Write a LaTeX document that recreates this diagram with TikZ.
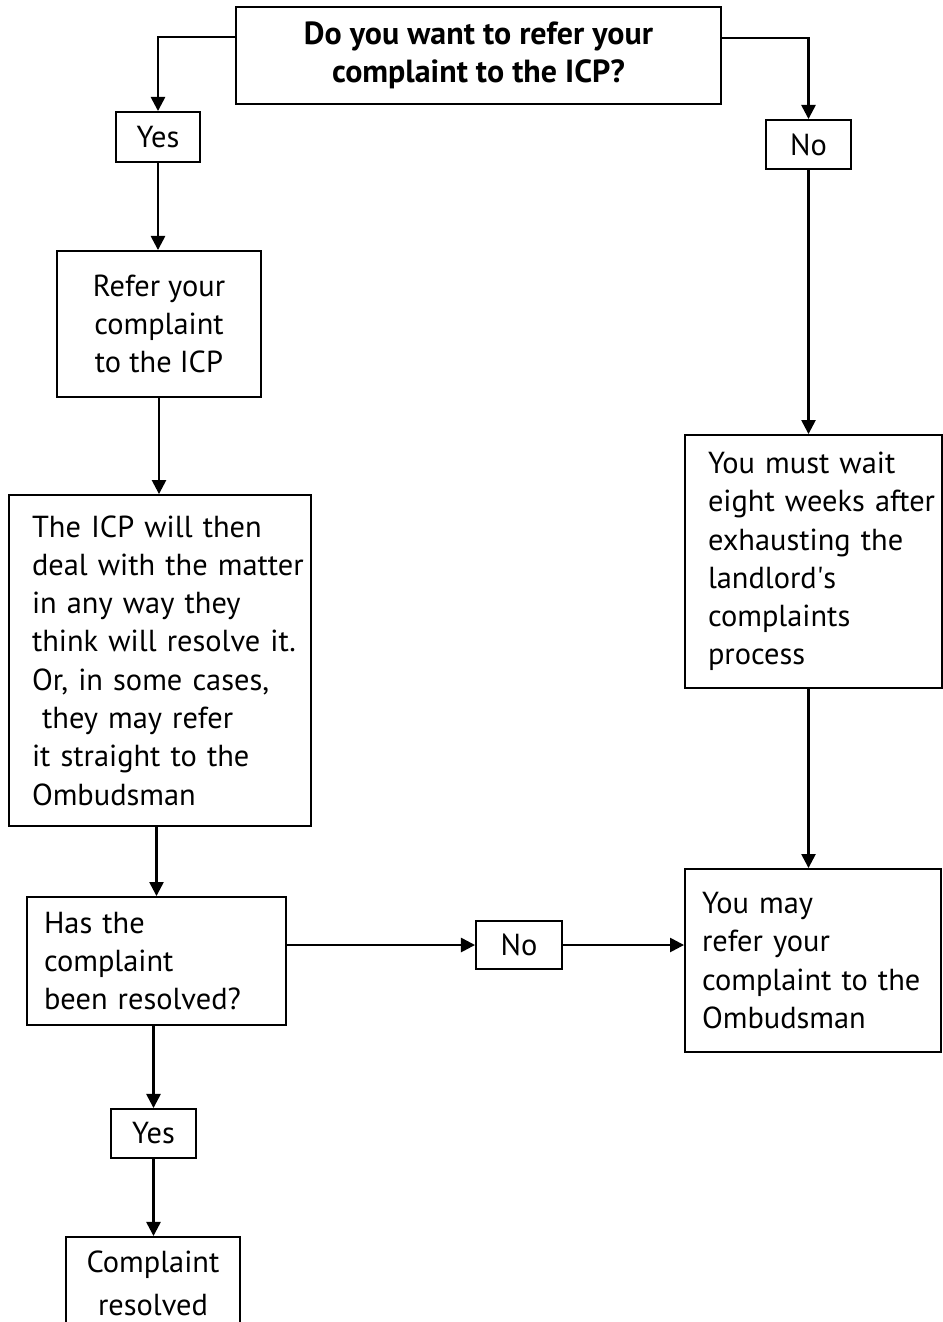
\documentclass[tikz,border=0pt]{standalone}
\usepackage{fontspec}
\setmainfont{PT Sans}
\usetikzlibrary{arrows.meta}
\hyphenpenalty=10000
\exhyphenpenalty=10000

\begin{document}
\begin{tikzpicture}[x=0.02cm, y=-0.02cm,
  box/.style={draw, line width=1.1pt, inner sep=0pt, font=\fontsize{17.3}{21.8}\selectfont},
  flow/.style={-{Triangle[length=8pt,width=8pt]}, line width=1.4pt}]
\useasboundingbox (0,0) rectangle (943,1322);
\clip (0,0) rectangle (943,1322);
\node[box, line width=1.6pt, minimum width=9.7cm, minimum height=1.94cm, align=center, font=\bfseries\fontsize{18.2}{22}\selectfont] (q) at (478.5,55.5) {Do you want to refer your\\complaint to the ICP?};
\node[box, minimum width=1.68cm, minimum height=1cm] (yes1) at (158,137) {Yes};
\node[box, minimum width=1.7cm, minimum height=0.98cm] (no1) at (808.5,144.5) {No};
\node[box, minimum width=4.08cm, minimum height=2.92cm, align=center] (refer) at (159,324) {Refer your\\complaint\\to the ICP};
\node[box, minimum width=6.04cm, minimum height=6.62cm, inner xsep=0.46cm, text width=5.12cm, align=left] (icp) at (160,660.5) {The~ICP~will~then\\deal~with~the~matter\\in~any~way~they\\think~will~resolve~it.\\Or,~in~some~cases,\\\ they~may~refer\\it~straight~to~the\\Ombudsman};
\node[box, minimum width=5.14cm, minimum height=5.06cm, inner xsep=0.46cm, text width=4.22cm, align=left] (wait) at (813.5,561.5) {You~must~wait\\eight~weeks~after\\exhausting~the\\landlord\textquotesingle s\\complaints\\process};
\node[box, minimum width=5.18cm, minimum height=2.56cm, inner xsep=0.34cm, text width=4.5cm, align=left] (resolved) at (156.5,961) {Has~the\\complaint\\been~resolved?};
\node[box, minimum width=1.72cm, minimum height=0.96cm] (no2) at (519,945) {No};
\node[box, minimum width=5.12cm, minimum height=3.66cm, inner xsep=0.34cm, text width=4.44cm, align=left] (may) at (813,960.5) {You~may\\refer~your\\complaint~to~the\\Ombudsman};
\node[box, minimum width=1.7cm, minimum height=0.98cm] (yes2) at (153.5,1133.5) {Yes};
\node[box, anchor=north, minimum width=3.48cm, inner ysep=0.28cm, text depth=1cm, align=center, font=\fontsize{17.3}{24.4}\selectfont] (done) at (153,1236) {Complaint\\resolved};
\draw[flow] ([yshift=0.37cm]q.west) -| (yes1.north);
\draw[flow] ([yshift=0.35cm]q.east) -| (no1.north);
\draw[flow] (yes1.south) -- (yes1.south |- refer.north);
\draw[flow] (refer.south) -- (refer.south |- icp.north);
\draw[flow] (no1.south) -- (no1.south |- wait.north);
\draw[flow] (resolved.north |- icp.south) -- (resolved.north);
\draw[flow] (resolved.east |- no2.west) -- (no2.west);
\draw[flow] (no2.east) -- (no2.east -| may.west);
\draw[flow] (no1.south |- wait.south) -- (no1.south |- may.north);
\draw[flow] (yes2.north |- resolved.south) -- (yes2.north);
\draw[flow] (yes2.south) -- (yes2.south |- done.north);
\end{tikzpicture}
\end{document}
